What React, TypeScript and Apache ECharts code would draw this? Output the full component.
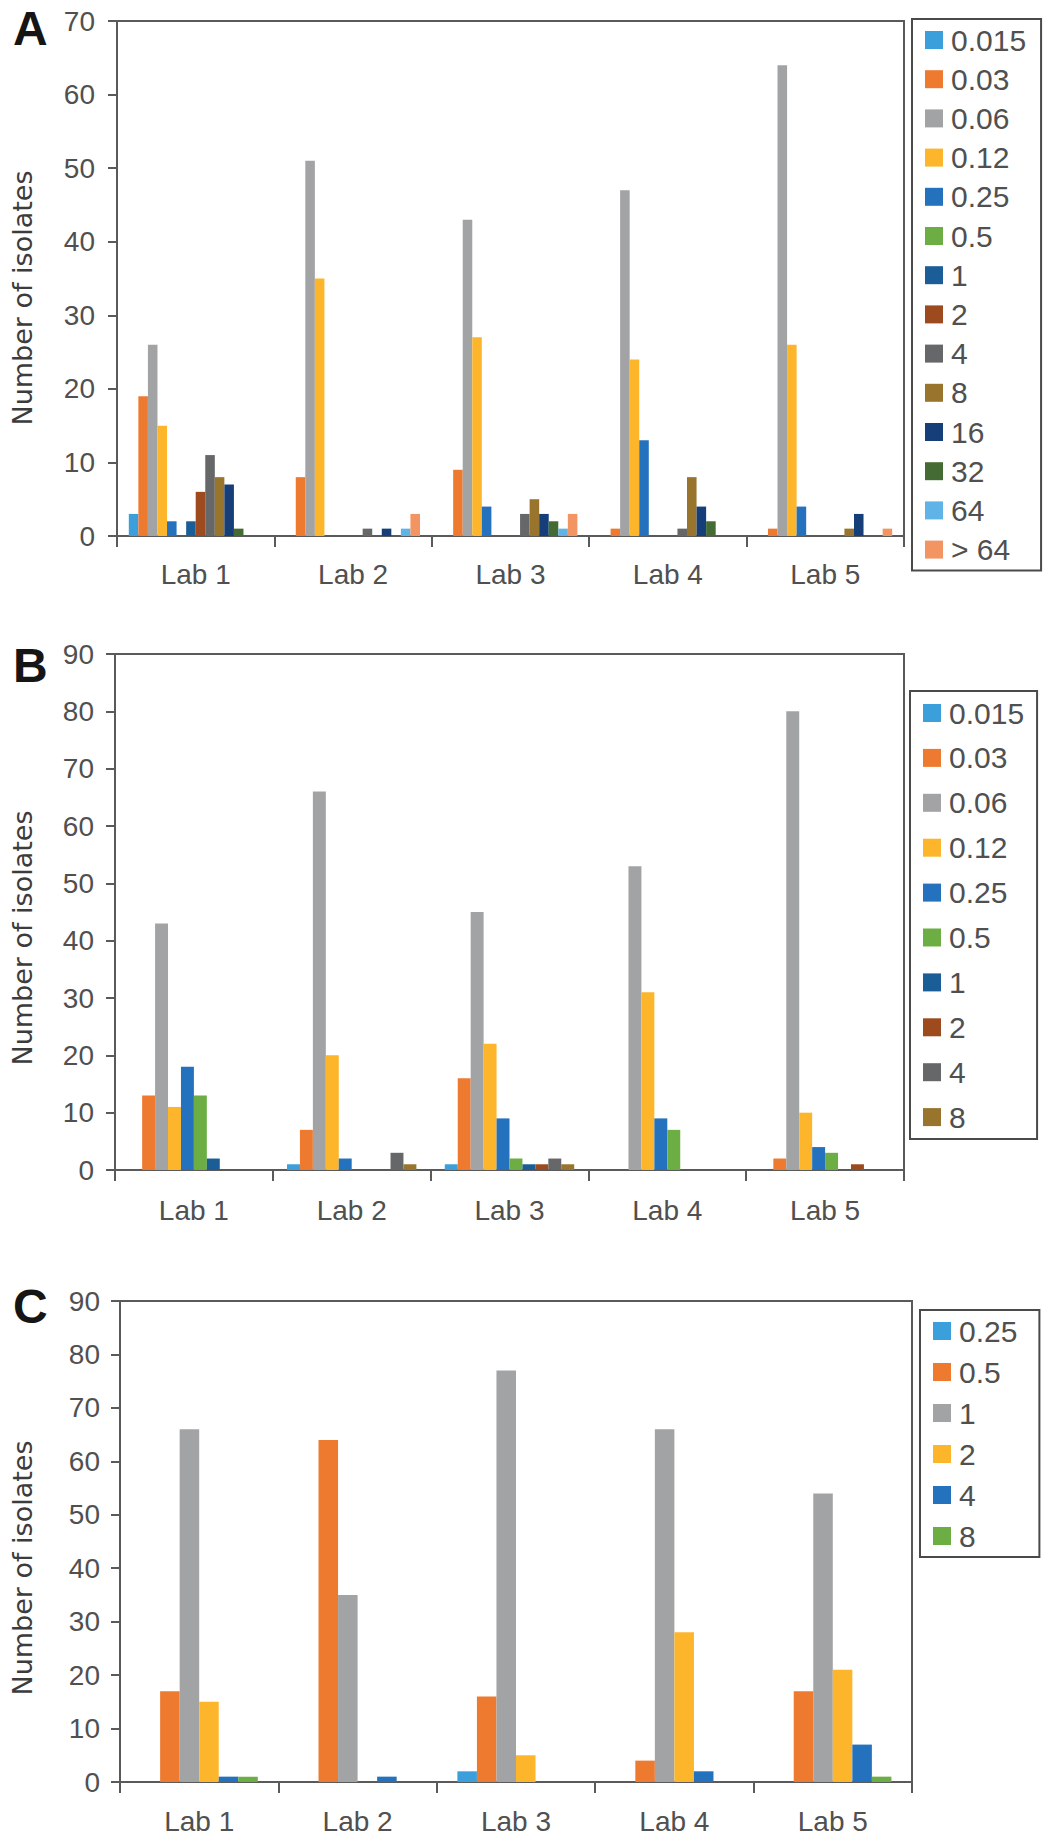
import React, { useEffect, useRef } from "react";
import * as echarts from "echarts";

const categories = ["Lab 1", "Lab 2", "Lab 3", "Lab 4", "Lab 5"];

// Panel A: MIC levels and counts per lab (order follows micA)
const micA = ["0.015", "0.03", "0.06", "0.12", "0.25", "0.5", "1", "2", "4", "8", "16", "32", "64", "> 64"];
const aLab1 = [3, 19, 26, 15, 2, 0, 2, 6, 11, 8, 7, 1, 0, 0];
const aLab2 = [0, 8, 51, 35, 0, 0, 0, 0, 1, 0, 1, 0, 1, 3];
const aLab3 = [0, 9, 43, 27, 4, 0, 0, 0, 3, 5, 3, 2, 1, 3];
const aLab4 = [0, 1, 47, 24, 13, 0, 0, 0, 1, 8, 4, 2, 0, 0];
const aLab5 = [0, 1, 64, 26, 4, 0, 0, 0, 0, 1, 3, 0, 0, 1];

// Panel B
const micB = ["0.015", "0.03", "0.06", "0.12", "0.25", "0.5", "1", "2", "4", "8"];
const bLab1 = [0, 13, 43, 11, 18, 13, 2, 0, 0, 0];
const bLab2 = [1, 7, 66, 20, 2, 0, 0, 0, 3, 1];
const bLab3 = [1, 16, 45, 22, 9, 2, 1, 1, 2, 1];
const bLab4 = [0, 0, 53, 31, 9, 7, 0, 0, 0, 0];
const bLab5 = [0, 2, 80, 10, 4, 3, 0, 1, 0, 0];

// Panel C
const micC = ["0.25", "0.5", "1", "2", "4", "8"];
const cLab1 = [0, 17, 66, 15, 1, 1];
const cLab2 = [0, 64, 35, 0, 1, 0];
const cLab3 = [2, 16, 77, 5, 0, 0];
const cLab4 = [0, 4, 66, 28, 2, 0];
const cLab5 = [0, 17, 54, 21, 7, 1];

const yMaxA = 70;
const yMaxB = 90;
const yMaxC = 90;

const palette = [
  "#3A9FDB", "#EE7A30", "#A2A3A5", "#FDB62C", "#2471BE", "#6DAE44", "#1B5E97",
  "#9C4A1E", "#666769", "#98742C", "#163F7A", "#456B34", "#5FB3E6", "#F29563",
];

const TICK_FONT = "'Liberation Sans', Arial, sans-serif";
const TITLE_FONT = "'DejaVu Sans', Verdana, sans-serif";
const AXIS_COLOR = "#5a5a5a";
const TEXT_COLOR = "#505050";

type PanelCfg = {
  letter: string;
  height: number;
  mics: string[];
  labs: number[][];
  yMax: number;
  grid: { left: number; top: number; width: number; height: number };
  legend: { left: number; top: number; itemGap: number; padding: number[] };
  barCategoryGap: string;
  xLabelMargin: number;
  yLabelMargin: number;
  titleY: number;
  letterY: number;
};

function buildOption(p: PanelCfg) {
  const series = p.mics.map((name, si) => ({
    type: "bar",
    name,
    data: p.labs.map((lab) => lab[si]),
    barGap: "0%",
    barCategoryGap: p.barCategoryGap,
    itemStyle: { color: palette[si] },
    emphasis: { disabled: true },
  }));
  return {
    animation: false,
    grid: {
      left: p.grid.left,
      top: p.grid.top,
      width: p.grid.width,
      height: p.grid.height,
      show: true,
      borderColor: AXIS_COLOR,
      borderWidth: 2,
      backgroundColor: "transparent",
    },
    xAxis: {
      type: "category",
      data: categories,
      boundaryGap: true,
      axisLine: { show: true, lineStyle: { color: AXIS_COLOR, width: 2 } },
      axisTick: { show: true, length: 11, lineStyle: { color: AXIS_COLOR, width: 2 } },
      axisLabel: {
        margin: p.xLabelMargin,
        fontSize: 28,
        fontFamily: TICK_FONT,
        color: TEXT_COLOR,
      },
      splitLine: { show: false },
    },
    yAxis: {
      type: "value",
      min: 0,
      max: p.yMax,
      interval: 10,
      axisLine: { show: true, lineStyle: { color: AXIS_COLOR, width: 2 } },
      axisTick: { show: true, length: 9, lineStyle: { color: AXIS_COLOR, width: 2 } },
      axisLabel: {
        margin: p.yLabelMargin,
        fontSize: 28,
        fontFamily: TICK_FONT,
        color: TEXT_COLOR,
      },
      splitLine: { show: false },
    },
    legend: {
      orient: "vertical",
      left: p.legend.left,
      top: p.legend.top,
      data: p.mics,
      icon: "rect",
      itemWidth: 18,
      itemHeight: 18,
      itemGap: p.legend.itemGap,
      padding: p.legend.padding,
      borderColor: "#4a4a4a",
      borderWidth: 2,
      selectedMode: false,
      textStyle: {
        fontSize: 30,
        fontFamily: TICK_FONT,
        color: TEXT_COLOR,
        padding: [0, 0, 0, 3],
      },
    },
    graphic: [
      {
        type: "text",
        x: 13,
        y: p.letterY,
        style: {
          text: p.letter,
          fontSize: 48,
          fontWeight: "bold",
          fontFamily: TICK_FONT,
          fill: "#151515",
          textAlign: "left",
          textVerticalAlign: "middle",
        },
      },
      {
        type: "text",
        x: 22,
        y: p.titleY,
        rotation: Math.PI / 2,
        style: {
          text: "Number of isolates",
          fontSize: 27,
          fontFamily: TITLE_FONT,
          fill: "#3c3c3c",
          textAlign: "center",
          textVerticalAlign: "middle",
        },
      },
    ],
    series,
  };
}

const panels: PanelCfg[] = [
  {
    letter: "A",
    height: 600,
    mics: micA,
    labs: [aLab1, aLab2, aLab3, aLab4, aLab5],
    yMax: yMaxA,
    grid: { left: 117, top: 21, width: 787, height: 515 },
    legend: { left: 912, top: 19, itemGap: 9.2, padding: [6, 15, 6, 13] },
    barCategoryGap: "15%",
    xLabelMargin: 24,
    yLabelMargin: 22,
    titleY: 298,
    letterY: 28,
  },
  {
    letter: "B",
    height: 640,
    mics: micB,
    labs: [bLab1, bLab2, bLab3, bLab4, bLab5],
    yMax: yMaxB,
    grid: { left: 115, top: 54, width: 789, height: 516 },
    legend: { left: 910, top: 91, itemGap: 14.9, padding: [7, 13, 7, 13] },
    barCategoryGap: "18%",
    xLabelMargin: 26,
    yLabelMargin: 21,
    titleY: 338,
    letterY: 65,
  },
  {
    letter: "C",
    height: 602,
    mics: micC,
    labs: [cLab1, cLab2, cLab3, cLab4, cLab5],
    yMax: yMaxC,
    grid: { left: 120, top: 61, width: 792, height: 481 },
    legend: { left: 920, top: 70, itemGap: 11, padding: [6, 22, 6, 13] },
    barCategoryGap: "26%",
    xLabelMargin: 25,
    yLabelMargin: 20,
    titleY: 328,
    letterY: 66,
  },
];

function Panel({ cfg }: { cfg: PanelCfg }) {
  const ref = useRef<HTMLDivElement>(null);
  useEffect(() => {
    if (!ref.current) return;
    const chart = echarts.init(ref.current, undefined, { renderer: "svg" });
    chart.setOption(buildOption(cfg) as any);
    return () => chart.dispose();
  }, [cfg]);
  return <div ref={ref} style={{ width: 1050, height: cfg.height }} />;
}

export default function App() {
  useEffect(() => {
    document.body.style.margin = "0";
    document.body.style.background = "#ffffff";
  }, []);
  return (
    <div style={{ width: 1050, height: 1842, background: "#ffffff" }}>
      {panels.map((p) => (
        <Panel key={p.letter} cfg={p} />
      ))}
    </div>
  );
}
